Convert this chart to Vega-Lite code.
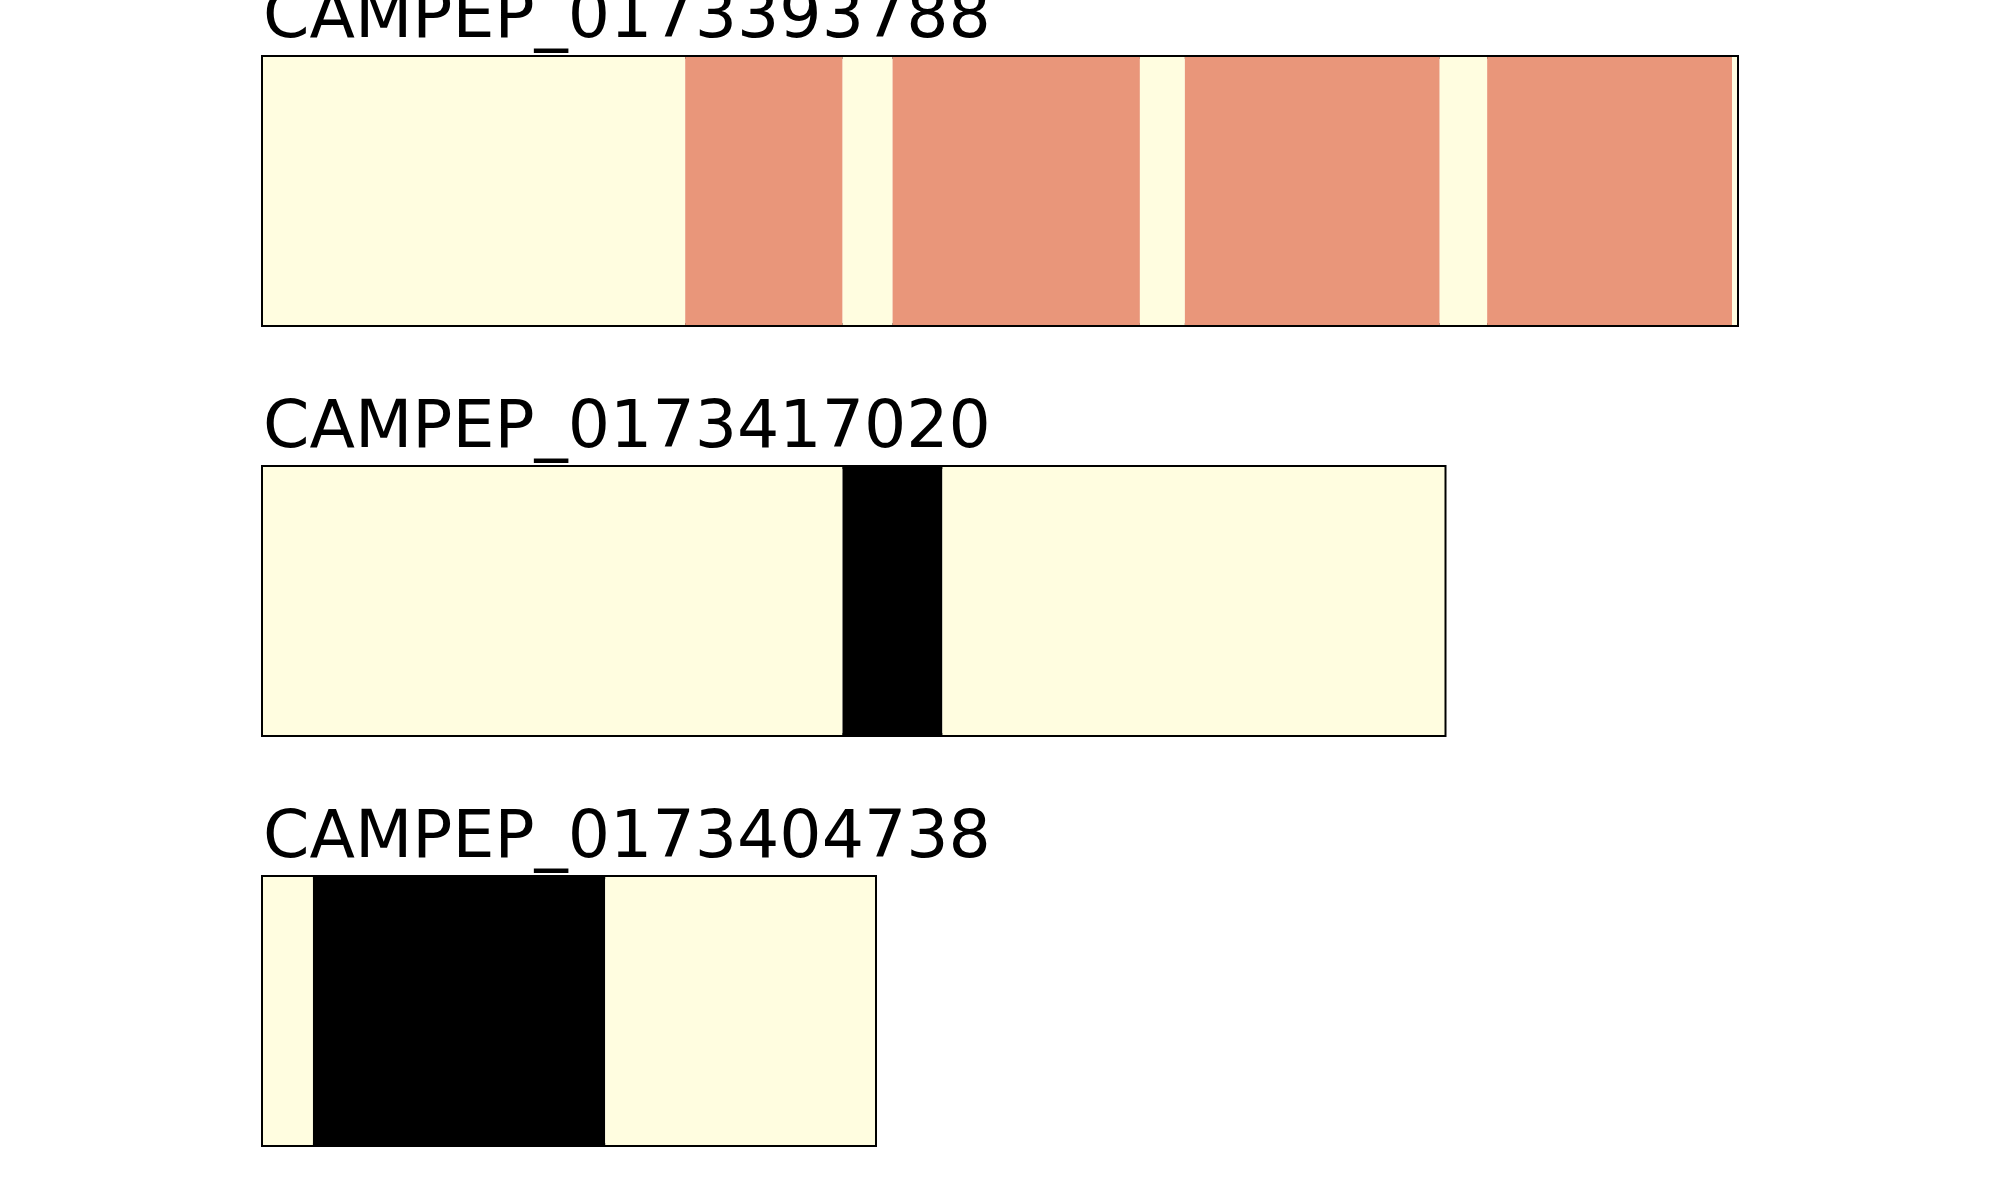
{
  "$schema": "https://vega.github.io/schema/vega-lite/v6.json",
  "background": "white",
  "padding": {"left": 261, "top": -19, "right": 10, "bottom": 10},
  "spacing": 142,
  "bounds": "flush",
  "config": {
    "view": {"stroke": "#000000", "strokeWidth": 4, "strokeOpacity": 1},
    "title": {"font": "DejaVu Sans", "fontSize": 66.5, "fontWeight": "normal", "color": "#000000", "anchor": "start", "baseline": "alphabetic", "offset": 7, "frame": "group"}
  },
  "datasets": {
    "p1": [
      {"start": 0, "end": 169, "cat": "none"},
      {"start": 169, "end": 232, "cat": "region"},
      {"start": 232, "end": 252, "cat": "none"},
      {"start": 252, "end": 351, "cat": "region"},
      {"start": 351, "end": 369, "cat": "none"},
      {"start": 369, "end": 471, "cat": "region"},
      {"start": 471, "end": 490, "cat": "none"},
      {"start": 490, "end": 588, "cat": "region"},
      {"start": 588, "end": 590, "cat": "none"}
    ],
    "p2": [
      {"start": 0, "end": 232, "cat": "none"},
      {"start": 232, "end": 272, "cat": "gap"},
      {"start": 272, "end": 473, "cat": "none"}
    ],
    "p3": [
      {"start": 0, "end": 20, "cat": "none"},
      {"start": 20, "end": 137, "cat": "gap"},
      {"start": 137, "end": 245, "cat": "none"}
    ]
  },
  "vconcat": [
    {
      "title": "CAMPEP_0173393788",
      "data": {"name": "p1"},
      "width": 1474,
      "height": 268,
      "mark": {"type": "rect"},
      "encoding": {
        "x": {"field": "start", "type": "quantitative", "scale": {"domain": [0, 590], "nice": false, "zero": false}, "axis": null},
        "x2": {"field": "end"},
        "color": {"field": "cat", "type": "nominal", "scale": {"domain": ["none", "region", "gap"], "range": ["#fffde0", "#e9967a", "#000000"]}, "legend": null}
      }
    },
    {
      "title": "CAMPEP_0173417020",
      "data": {"name": "p2"},
      "width": 1181.5,
      "height": 268,
      "mark": {"type": "rect"},
      "encoding": {
        "x": {"field": "start", "type": "quantitative", "scale": {"domain": [0, 473], "nice": false, "zero": false}, "axis": null},
        "x2": {"field": "end"},
        "color": {"field": "cat", "type": "nominal", "scale": {"domain": ["none", "region", "gap"], "range": ["#fffde0", "#e9967a", "#000000"]}, "legend": null}
      }
    },
    {
      "title": "CAMPEP_0173404738",
      "data": {"name": "p3"},
      "width": 612,
      "height": 268,
      "mark": {"type": "rect"},
      "encoding": {
        "x": {"field": "start", "type": "quantitative", "scale": {"domain": [0, 245], "nice": false, "zero": false}, "axis": null},
        "x2": {"field": "end"},
        "color": {"field": "cat", "type": "nominal", "scale": {"domain": ["none", "region", "gap"], "range": ["#fffde0", "#e9967a", "#000000"]}, "legend": null}
      }
    }
  ]
}
